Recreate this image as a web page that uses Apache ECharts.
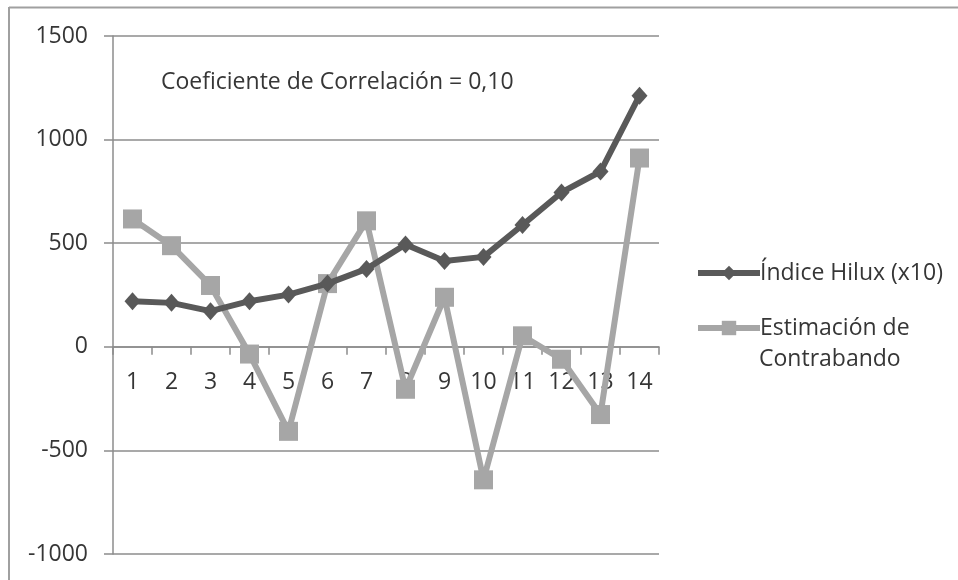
<!DOCTYPE html>
<html>
<head>
<meta charset="utf-8">
<script src="https://cdn.jsdelivr.net/npm/echarts@6/dist/echarts.min.js"></script>
<style>
html,body{margin:0;padding:0;background:#fff;}
#chart{width:958px;height:580px;}
</style>
</head>
<body>
<div id="chart"></div>
<script>
var categories = ['1','2','3','4','5','6','7','8','9','10','11','12','13','14'];
var hilux = [220, 212, 172, 220, 252, 305, 376, 494, 414, 434, 588, 745, 846, 1212];
var contrabando = [617, 488, 296, -35, -408, 305, 608, -205, 239, -642, 53, -60, -327, 911];
var seriesNames = ['Índice Hilux (x10)', 'Estimación de Contrabando'];
var annotation = 'Coeficiente de Correlación = 0,10';
var yMin = -1000, yMax = 1500, yStep = 500;

var FONT = 'Open Sans';
var FS = 23;
var TXT = '#363636';
var GRID = '#8c8c8c';
var gridTop = 36, gridH = 518;
// x-axis crosses the value axis at 0
var xOffset = -gridH * (0 - yMin) / (yMax - yMin);

var chart = echarts.init(document.getElementById('chart'));
chart.setOption({
  backgroundColor: '#fff',
  animation: false,
  title: {
    text: annotation,
    left: 156, top: 66,
    textStyle: {fontFamily: FONT, fontSize: FS, fontWeight: 'normal', color: TXT}
  },
  grid: {left: 113, top: gridTop, width: 546, height: gridH, containLabel: false},
  legend: {
    orient: 'vertical',
    left: 695, top: 259,
    padding: 0,
    itemWidth: 62, itemHeight: 18,
    itemGap: 27,
    data: seriesNames,
    lineStyle: {width: 6},
    formatter: function (n) { return n === seriesNames[1] ? 'Estimación de' : n; },
    textStyle: {fontFamily: FONT, fontSize: FS, color: TXT, lineHeight: 28, padding: [0,0,0,-5]}
  },
  xAxis: {
    type: 'category',
    data: categories,
    boundaryGap: true,
    offset: xOffset,
    axisLine: {onZero: false, lineStyle: {color: GRID, width: 1.5}},
    axisTick: {show: true, inside: false, length: 8, lineStyle: {color: GRID, width: 1.5}},
    axisLabel: {margin: 24, fontFamily: FONT, fontSize: FS, color: TXT},
    splitLine: {show: false}
  },
  yAxis: {
    type: 'value',
    min: yMin, max: yMax, interval: yStep,
    axisLine: {show: true, lineStyle: {color: GRID, width: 1.5}},
    axisTick: {show: true, length: 9, lineStyle: {color: GRID, width: 1.5}},
    axisLabel: {margin: 25, fontFamily: FONT, fontSize: FS, color: TXT, formatter: function (v) { return String(v); }},
    splitLine: {show: true, lineStyle: {color: GRID, width: 1.5}}
  },
  graphic: [
    {type: 'line', shape: {x1: 9, y1: 7.5, x2: 958, y2: 7.5}, style: {stroke: '#a0a0a0', lineWidth: 2}},
    {type: 'line', shape: {x1: 9, y1: 7, x2: 9, y2: 580}, style: {stroke: '#a0a0a0', lineWidth: 2}},
    {type: 'text', left: 759, top: 348, style: {text: 'Contrabando', font: FS + 'px "Open Sans"', fill: TXT}}
  ],
  series: [
    {
      name: seriesNames[0], type: 'line', data: hilux,
      symbol: 'diamond', symbolSize: [16, 18],
      lineStyle: {color: '#595959', width: 6},
      itemStyle: {color: '#595959'},
      z: 3
    },
    {
      name: seriesNames[1], type: 'line', data: contrabando,
      symbol: 'rect', symbolSize: 19,
      lineStyle: {color: '#a6a6a6', width: 6},
      itemStyle: {color: '#a6a6a6'},
      z: 2
    }
  ]
});
</script>
</body>
</html>
